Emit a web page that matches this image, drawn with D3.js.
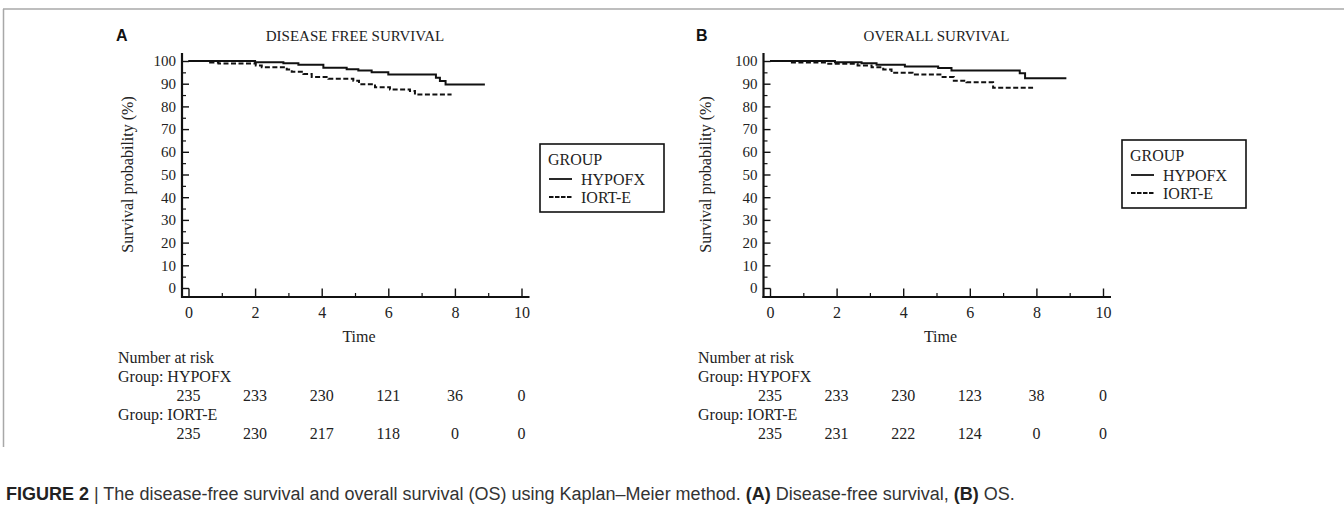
<!DOCTYPE html>
<html>
<head>
<meta charset="utf-8">
<script src="https://cdn.jsdelivr.net/npm/d3@7"></script>
<style>
  html, body { margin: 0; padding: 0; background: #fff; }
  svg { display: block; }
</style>
</head>
<body>
<svg id="chart" width="1344" height="508"></svg>
<script>
// ---------------- DATA ----------------
const groups = ["HYPOFX", "IORT-E"];
const xTicks = [0, 2, 4, 6, 8, 10];
const xMinorTicks = [1, 3, 5, 7, 9];
const yTicks = [0, 10, 20, 30, 40, 50, 60, 70, 80, 90, 100];
const yMinorTicks = [5, 15, 25, 35, 45, 55, 65, 75, 85, 95];

// Disease free survival (panel A)
const dfsHypofxTime = [0, 2.0, 2.85, 3.3, 4.05, 4.75, 5.1, 5.5, 6.0, 7.43, 7.55, 7.72, 8.9];
const dfsHypofxSurv = [100, 99.4, 99.0, 98.3, 97.0, 96.4, 95.8, 95.0, 94.0, 92.6, 91.2, 89.6, 89.6];
const dfsIortTime = [0, 0.65, 0.9, 2.02, 2.2, 2.95, 3.1, 3.45, 3.7, 4.2, 4.95, 5.12, 5.6, 6.05, 6.65, 6.8, 7.9];
const dfsIortSurv = [100, 99.3, 98.9, 98.0, 97.3, 96.3, 95.3, 94.3, 93.0, 92.2, 91.3, 89.8, 88.4, 87.5, 86.8, 85.2, 85.2];

// Overall survival (panel B)
const osHypofxTime = [0, 1.95, 2.75, 3.2, 4.05, 5.05, 5.45, 7.5, 7.66, 8.9];
const osHypofxSurv = [100, 99.4, 99.0, 98.4, 97.6, 96.9, 95.8, 94.6, 92.4, 92.4];
const osIortTime = [0, 0.57, 1.7, 2.63, 3.05, 3.4, 3.65, 4.28, 5.15, 5.52, 5.9, 6.7, 7.9];
const osIortSurv = [100, 99.3, 98.8, 98.0, 97.3, 96.3, 94.8, 94.0, 93.0, 91.3, 90.6, 88.2, 88.2];

// Number at risk
const dfsRiskHypofx = [235, 233, 230, 121, 36, 0];
const dfsRiskIort = [235, 230, 217, 118, 0, 0];
const osRiskHypofx = [235, 233, 230, 123, 38, 0];
const osRiskIort = [235, 231, 222, 124, 0, 0];

const captionText = [
  {t: "FIGURE 2", b: true}, {t: " | The disease-free survival and overall survival (OS) using Kaplan\u2013Meier method. ", b: false},
  {t: "(A)", b: true}, {t: " Disease-free survival, ", b: false}, {t: "(B)", b: true}, {t: " OS.", b: false}
];

// ---------------- DRAW ----------------
const svg = d3.select("#chart");
const SERIF = "'Liberation Serif', 'Times New Roman', serif";
const SANS = "'Liberation Sans', Arial, Helvetica, sans-serif";

// frame
svg.append("line").attr("x1", 3).attr("y1", 9).attr("x2", 1344).attr("y2", 9)
  .attr("stroke", "#a8a8a8").attr("stroke-width", 1.5);
svg.append("line").attr("x1", 3.5).attr("y1", 9).attr("x2", 3.5).attr("y2", 447)
  .attr("stroke", "#a8a8a8").attr("stroke-width", 1.5);

function drawPanel(cfg) {
  const g = svg.append("g");
  const x = d3.scaleLinear().domain([0, 10]).range([cfg.x0, cfg.x0 + 333]);
  const y = d3.scaleLinear().domain([0, 100]).range([288, 61]);
  const axX = cfg.x0 - 6.5;   // y-axis line position
  const axY = 297;            // x-axis line position

  // letter + title
  g.append("text").attr("x", cfg.letterX).attr("y", 41).text(cfg.letter)
    .attr("font-family", SANS).attr("font-weight", "bold").attr("font-size", 16).attr("fill", "#111");
  g.append("text").attr("x", (x(0) + x(10)) / 2).attr("y", 41).text(cfg.title)
    .attr("text-anchor", "middle").attr("font-family", SERIF).attr("font-size", 15).attr("fill", "#222");

  // y axis ticks
  const yAxis = d3.axisLeft(y).tickValues(yTicks).tickSize(-7).tickPadding(6);
  const yg = g.append("g").attr("transform", `translate(${axX},0)`).call(yAxis);
  yg.select(".domain").remove();
  yg.selectAll("text").attr("font-family", SERIF).attr("font-size", 15).attr("fill", "#222");
  yg.selectAll("line").attr("stroke", "#111").attr("stroke-width", 1.4);
  const ygm = g.append("g").attr("transform", `translate(${axX},0)`)
    .call(d3.axisLeft(y).tickValues(yMinorTicks).tickSize(-4).tickFormat(""));
  ygm.select(".domain").remove();
  ygm.selectAll("line").attr("stroke", "#111").attr("stroke-width", 1.2);

  // x axis ticks
  const xAxis = d3.axisBottom(x).tickValues(xTicks).tickSize(-8.5).tickPadding(10);
  const xg = g.append("g").attr("transform", `translate(0,${axY})`).call(xAxis);
  xg.select(".domain").remove();
  xg.selectAll("text").attr("font-family", SERIF).attr("font-size", 16).attr("fill", "#222");
  xg.selectAll("line").attr("stroke", "#111").attr("stroke-width", 1.4);
  const xgm = g.append("g").attr("transform", `translate(0,${axY})`)
    .call(d3.axisBottom(x).tickValues(xMinorTicks).tickSize(-4).tickFormat(""));
  xgm.select(".domain").remove();
  xgm.selectAll("line").attr("stroke", "#111").attr("stroke-width", 1.2);

  // axis lines
  g.append("line").attr("x1", axX).attr("y1", 53).attr("x2", axX).attr("y2", axY + 1)
    .attr("stroke", "#111").attr("stroke-width", 2.2);
  g.append("line").attr("x1", axX - 1).attr("y1", axY).attr("x2", x(10) + 8).attr("y2", axY)
    .attr("stroke", "#111").attr("stroke-width", 2.2);

  // axis titles
  g.append("text").attr("transform", `translate(${cfg.yTitleX},${(y(0) + y(100)) / 2}) rotate(-90)`)
    .attr("text-anchor", "middle").text("Survival probability (%)")
    .attr("font-family", SERIF).attr("font-size", 16).attr("fill", "#222");
  g.append("text").attr("x", (x(0) + x(10)) / 2 + 4).attr("y", 342).attr("text-anchor", "middle")
    .text("Time").attr("font-family", SERIF).attr("font-size", 16).attr("fill", "#222");

  // curves
  const line = d3.line().x(d => x(d[0])).y(d => y(d[1])).curve(d3.curveStepAfter);
  cfg.series.forEach((s, i) => {
    const pts = s.time.map((t, k) => [t, s.surv[k]]);
    g.append("path").attr("d", line(pts)).attr("fill", "none").attr("stroke", "#111")
      .attr("stroke-width", 2).attr("stroke-dasharray", i === 1 ? "5,2.5" : null);
  });

  // legend
  const L = cfg.legend;
  g.append("rect").attr("x", L.x).attr("y", L.y).attr("width", 124).attr("height", 68)
    .attr("fill", "#fff").attr("stroke", "#111").attr("stroke-width", 1.6);
  g.append("text").attr("x", L.x + 8).attr("y", L.y + 21).text("GROUP")
    .attr("font-family", SERIF).attr("font-size", 16).attr("fill", "#222");
  groups.forEach((name, i) => {
    const ly = L.y + 35 + i * 18;
    g.append("line").attr("x1", L.x + 9).attr("x2", L.x + 32).attr("y1", ly).attr("y2", ly)
      .attr("stroke", "#111").attr("stroke-width", 1.8).attr("stroke-dasharray", i === 1 ? "4.5,1.5" : null);
    g.append("text").attr("x", L.x + 41).attr("y", ly + 5.5).text(name)
      .attr("font-family", SERIF).attr("font-size", 16).attr("fill", "#222");
  });

  // number at risk table
  const rows = [
    {label: "Number at risk", y: 363},
    {label: "Group: " + groups[0], y: 382},
    {nums: cfg.risk[0], y: 401},
    {label: "Group: " + groups[1], y: 420},
    {nums: cfg.risk[1], y: 439}
  ];
  rows.forEach(r => {
    if (r.label) {
      g.append("text").attr("x", cfg.riskX).attr("y", r.y).text(r.label)
        .attr("font-family", SERIF).attr("font-size", 16).attr("fill", "#222");
    } else {
      r.nums.forEach((n, k) => {
        g.append("text").attr("x", x(xTicks[k])).attr("y", r.y).attr("text-anchor", "middle").text(n)
          .attr("font-family", SERIF).attr("font-size", 16).attr("fill", "#222");
      });
    }
  });
}

drawPanel({
  letter: "A", letterX: 116, title: "DISEASE FREE SURVIVAL", x0: 188.5, yTitleX: 133, riskX: 118,
  legend: {x: 540, y: 144},
  series: [{time: dfsHypofxTime, surv: dfsHypofxSurv}, {time: dfsIortTime, surv: dfsIortSurv}],
  risk: [dfsRiskHypofx, dfsRiskIort]
});
drawPanel({
  letter: "B", letterX: 696, title: "OVERALL SURVIVAL", x0: 770, yTitleX: 711, riskX: 698,
  legend: {x: 1122, y: 140},
  series: [{time: osHypofxTime, surv: osHypofxSurv}, {time: osIortTime, surv: osIortSurv}],
  risk: [osRiskHypofx, osRiskIort]
});

// caption
const cap = svg.append("text").attr("x", 6).attr("y", 500)
  .attr("font-family", SANS).attr("font-size", 18).attr("fill", "#333");
captionText.forEach(p => {
  cap.append("tspan").text(p.t).attr("font-weight", p.b ? "bold" : "normal").attr("fill", p.b ? "#222" : "#333");
});
</script>
</body>
</html>
